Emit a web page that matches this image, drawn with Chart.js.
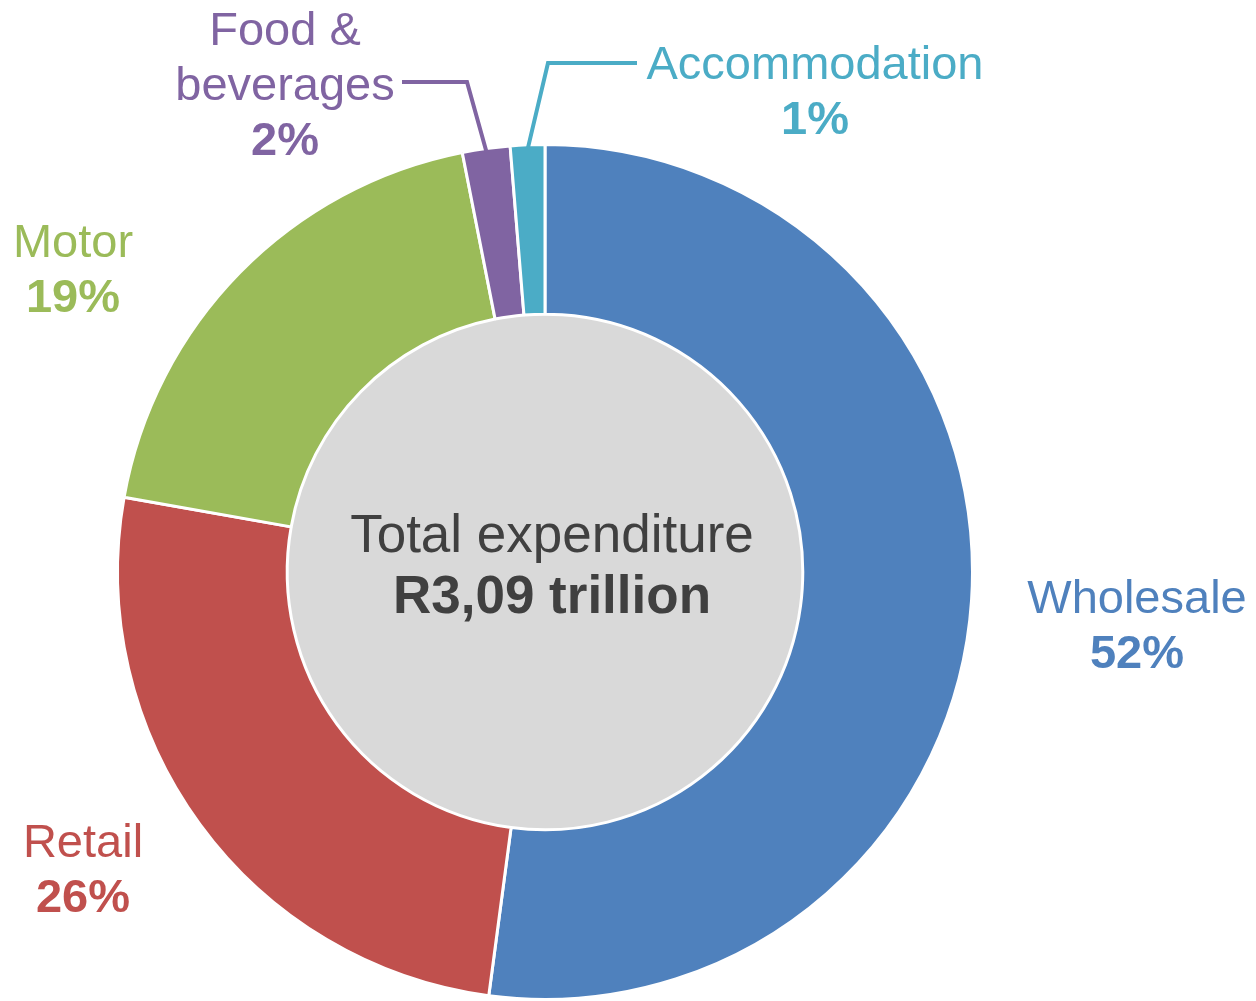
<!DOCTYPE html>
<html>
<head>
<meta charset="utf-8">
<script src="https://cdn.jsdelivr.net/npm/chart.js@4/dist/chart.umd.min.js"></script>
<style>
    html, body { margin: 0; padding: 0; background: #fff; }
    #wrap { width: 1256px; height: 1001px; position: relative; }
</style>
</head>
<body>
<div id="wrap"><canvas id="expenditureChart"></canvas></div>
<script>
// Datos del gráfico
const categories = ['Wholesale', 'Retail', 'Motor', ['Food &', 'beverages'], 'Accommodation'];
const shares = [52.1, 25.7, 19.1, 1.8, 1.3];
const centerTitle = 'Total expenditure';
const centerValue = 'R3,09 trillion';

const colors = ['#4f81bd', '#c0504d', '#9bbb59', '#8064a2', '#4bacc6'];
const FONT = "'Liberation Sans', Arial, sans-serif";

// Posición de cada etiqueta (centro x, primera línea base)
const labelSpots = [
    { x: 1137, y: 613 },
    { x: 83, y: 857 },
    { x: 73, y: 257 },
    { x: 285, y: 45 },
    { x: 815, y: 79 }
];
// Líneas guía para los sectores pequeños
const leaders = {
    3: [[402, 82], [467, 82]],
    4: [[637, 63], [548, 63]]
};

const centerPlugin = {
    id: 'centerCircle',
    beforeDatasetsDraw(chart) {
        const arc = chart.getDatasetMeta(0).data[0];
        if (!arc) return;
        const { x, y, innerRadius } = arc.getProps(['x', 'y', 'innerRadius'], true);
        const ctx = chart.ctx;
        ctx.save();
        ctx.beginPath();
        ctx.arc(x, y, innerRadius, 0, Math.PI * 2);
        ctx.fillStyle = '#d9d9d9';
        ctx.fill();
        ctx.restore();
    },
    afterDatasetsDraw(chart) {
        const meta = chart.getDatasetMeta(0);
        const ctx = chart.ctx;
        const first = meta.data[0];
        const { x: cx, y: cy } = first.getProps(['x', 'y'], true);

        ctx.save();
        ctx.textAlign = 'center';
        ctx.textBaseline = 'alphabetic';
        ctx.fillStyle = '#404040';
        ctx.font = `53px ${FONT}`;
        ctx.fillText(centerTitle, cx + 7, cy - 20);
        ctx.font = `bold 53px ${FONT}`;
        ctx.fillText(centerValue, cx + 7, cy + 41);

        meta.data.forEach((arc, i) => {
            const spot = labelSpots[i];
            const lines = [].concat(categories[i]);
            ctx.fillStyle = colors[i];
            ctx.font = `47px ${FONT}`;
            lines.forEach((line, k) => ctx.fillText(line, spot.x, spot.y + k * 55));
            ctx.font = `bold 47px ${FONT}`;
            ctx.fillText(Math.round(shares[i]) + '%', spot.x, spot.y + lines.length * 55);

            if (leaders[i]) {
                const p = arc.getProps(['x', 'y', 'startAngle', 'endAngle', 'outerRadius'], true);
                const mid = (p.startAngle + p.endAngle) / 2;
                const ex = p.x + Math.cos(mid) * (p.outerRadius - 4);
                const ey = p.y + Math.sin(mid) * (p.outerRadius - 4);
                ctx.beginPath();
                ctx.moveTo(leaders[i][0][0], leaders[i][0][1]);
                ctx.lineTo(leaders[i][1][0], leaders[i][1][1]);
                ctx.lineTo(ex, ey);
                ctx.strokeStyle = colors[i];
                ctx.lineWidth = 4;
                ctx.stroke();
            }
        });
        ctx.restore();
    }
};

new Chart(document.getElementById('expenditureChart'), {
    type: 'doughnut',
    data: {
        labels: categories,
        datasets: [{
            data: shares,
            backgroundColor: colors,
            borderColor: '#ffffff',
            borderWidth: 3
        }]
    },
    options: {
        responsive: true,
        maintainAspectRatio: false,
        animation: false,
        cutout: '60.3%',
        layout: { padding: { top: 143, bottom: -4, left: 114, right: 280 } },
        plugins: { legend: { display: false }, tooltip: { enabled: false } }
    },
    plugins: [centerPlugin]
});
</script>
</body>
</html>
